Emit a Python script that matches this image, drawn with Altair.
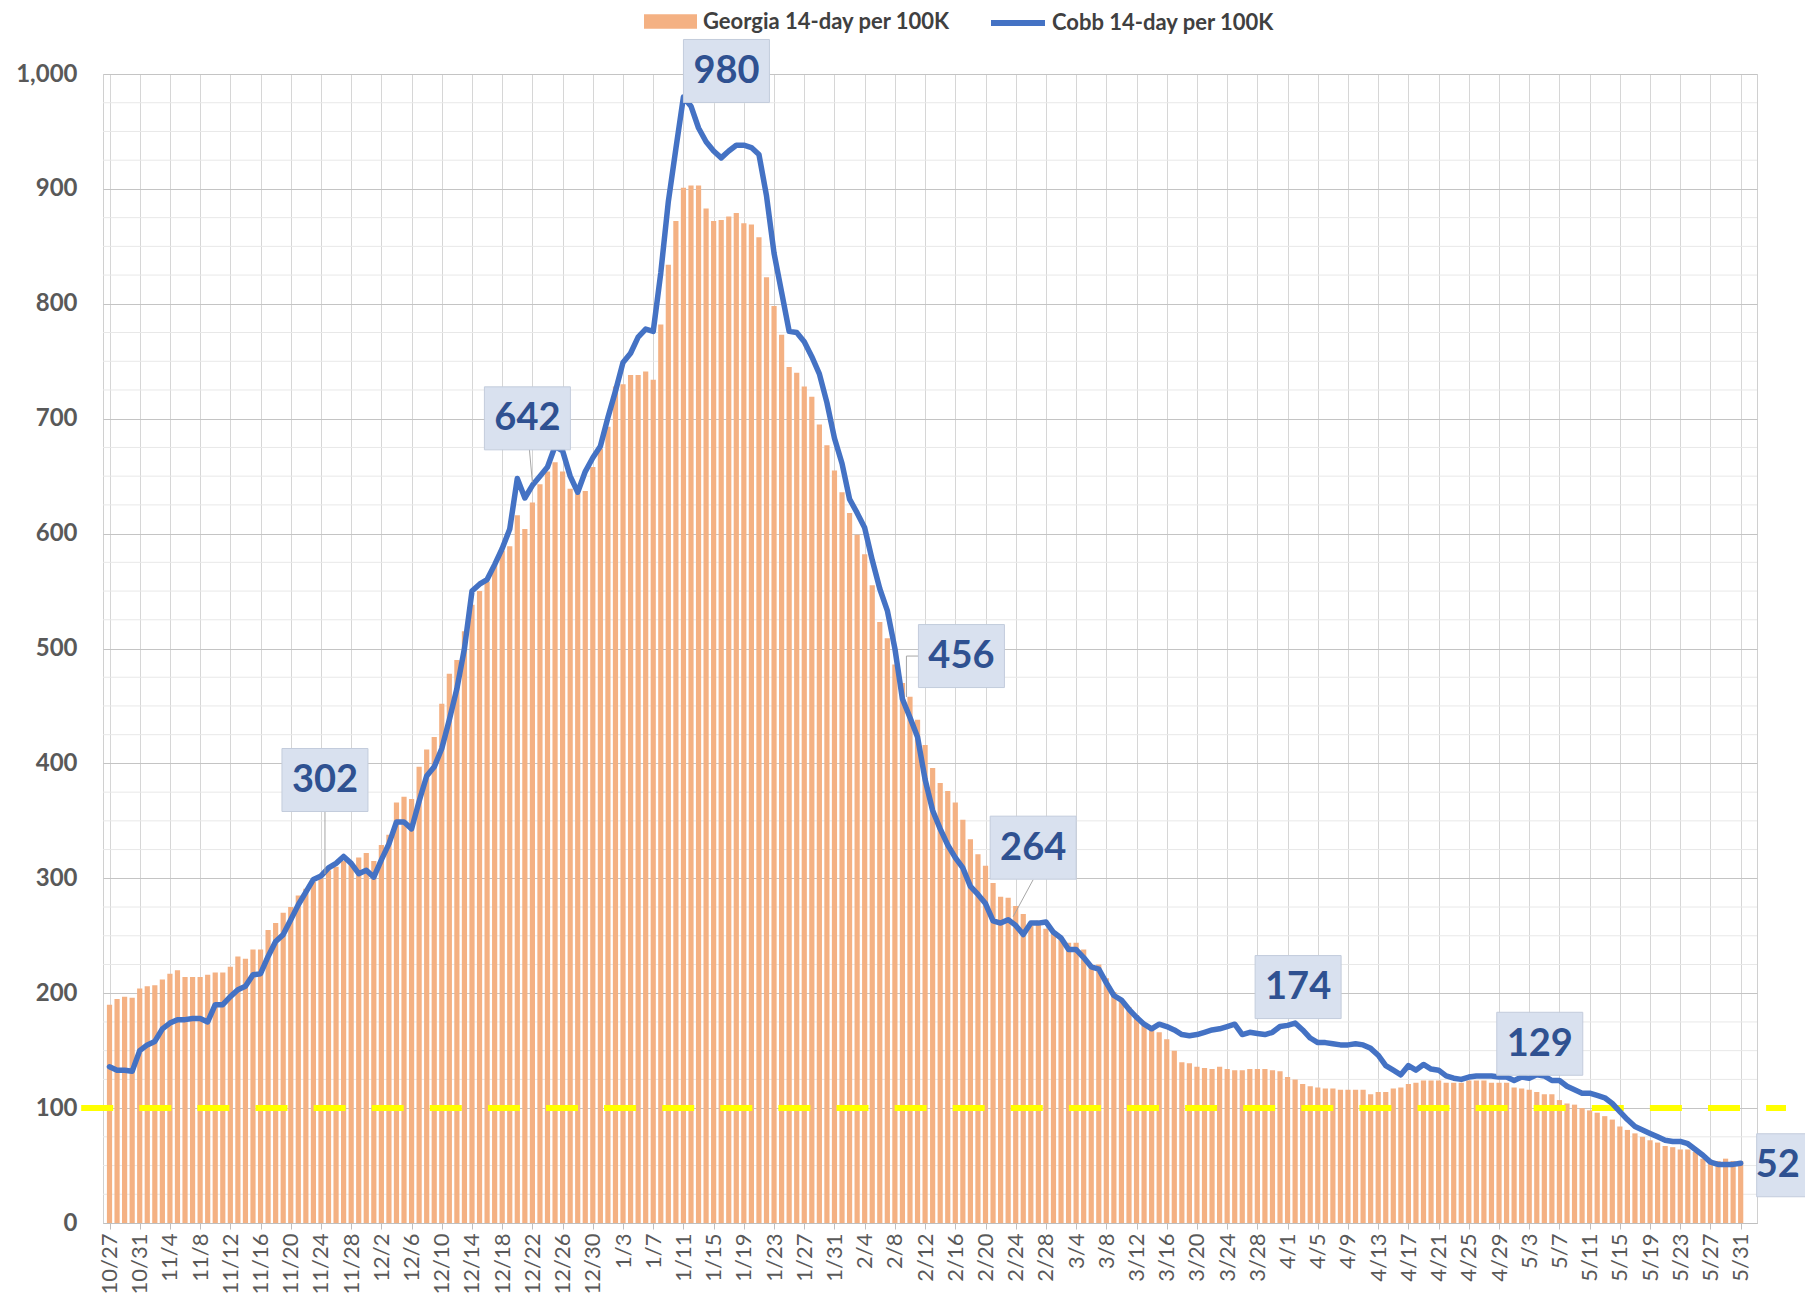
import altair as alt
import pandas as pd

# ---------------- data ----------------
georgia = [
    190, 195, 197, 196, 204, 206, 207, 212, 217, 220,
    214, 214, 214, 216, 218, 218, 223, 232, 230, 238,
    238, 255, 261, 270, 275, 285, 291, 297, 300, 307,
    310, 315, 312, 318, 322, 315, 329, 338, 366, 371,
    369, 397, 412, 423, 452, 478, 490, 515, 538, 550,
    558, 573, 585, 589, 616, 604, 627, 643, 654, 662,
    654, 639, 635, 637, 658, 674, 693, 728, 730, 738,
    738, 741, 734, 782, 834, 872, 901, 903, 903, 883,
    872, 873, 876, 879, 870, 869, 858, 823, 798, 773,
    745, 740, 728, 719, 695, 677, 655, 636, 618, 599,
    582, 555, 523, 509, 486, 470, 458, 438, 416, 396,
    383, 376, 366, 351, 334, 321, 311, 296, 284, 283,
    276, 269, 259, 263, 256, 253, 249, 244, 244, 238,
    225, 225, 213, 201, 194, 188, 181, 173, 168, 166,
    160, 150, 140, 139, 136, 135, 134, 136, 134, 133,
    133, 134, 134, 134, 133, 132, 127, 125, 121, 119,
    118, 117, 117, 116, 116, 116, 116, 112, 114, 114,
    117, 118, 121, 122, 124, 124, 124, 122, 122, 122,
    124, 124, 124, 122, 122, 122, 118, 117, 116, 114,
    112, 112, 107, 104, 103, 100, 98, 96, 93, 90,
    84, 81, 78, 75, 72, 70, 67, 66, 64, 64,
    62, 56, 55, 54, 56, 54, 54,
]

cobb = [
    136, 133, 133, 132, 150, 155, 158, 169, 174, 177,
    177, 178, 178, 175, 190, 190, 197, 203, 206, 216,
    217, 232, 245, 251, 264, 277, 288, 299, 302, 309,
    313, 319, 313, 304, 307, 301, 316, 330, 349, 349,
    343, 367, 389, 397, 413, 438, 465, 500, 550, 556,
    560, 573, 587, 604, 648, 631, 642, 650, 658, 676,
    672, 650, 636, 654, 666, 676, 701, 724, 749, 757,
    771, 778, 776, 827, 889, 935, 980, 972, 953, 941,
    933, 927, 933, 938, 938, 936, 930, 894, 844, 810,
    776, 775, 767, 754, 739, 714, 683, 661, 630, 618,
    605, 577, 552, 533, 500, 456, 440, 423, 386, 359,
    343, 329, 318, 309, 293, 286, 278, 263, 261, 264,
    259, 251, 261, 261, 262, 253, 248, 238, 238, 231,
    223, 221, 209, 198, 194, 186, 179, 173, 169, 173,
    171, 168, 164, 163, 164, 166, 168, 169, 171, 173,
    164, 166, 165, 164, 166, 171, 172, 174, 168, 161,
    157, 157, 156, 155, 155, 156, 155, 152, 146, 137,
    133, 129, 137, 133, 138, 134, 133, 128, 126, 125,
    127, 128, 128, 128, 127, 127, 124, 127, 126, 129,
    128, 124, 124, 119, 116, 113, 113, 111, 109, 104,
    97, 90, 84, 81, 78, 75, 72, 71, 71, 69,
    64, 59, 53, 51, 51, 51, 52,
]

dates = pd.date_range("2020-10-27", "2021-05-31", freq="D")
date_labels = [f"{d.month}/{d.day}" for d in dates]
tick_days = list(range(0, len(dates), 4))

label_days = [28, 56, 76, 105, 119, 157, 189, 216]
threshold = 100

GA = "Georgia 14-day per 100K"
CB = "Cobb 14-day per 100K"

ORANGE = "#F4B183"
BLUE = "#4472C4"
LABEL_BLUE = "#2F5191"
BOX_FILL = "#D9E1EF"
BOX_STROKE = "#C3CCDC"
FONT = "Lato"

df = pd.DataFrame({
    "day": list(range(len(dates))),
    "georgia": georgia,
    "cobb": cobb,
    "ga": GA,
    "cb": CB,
})

# ---------------- scales / axes (shared by every layer) ----------------
label_expr = "[" + ",".join(f"'{s}'" for s in date_labels) + "][datum.value]"
x_scale = alt.Scale(domain=[-0.2, 217.5], nice=False, zero=False)
y_scale = alt.Scale(domain=[0, 1000], nice=False)

x_axis = alt.Axis(
    values=tick_days, labelExpr=label_expr, labelAngle=-90,
    labelFont=FONT, labelFontSize=22, labelColor="#595959",
    labelOverlap=False, labelFlush=False, labelPadding=4,
    grid=True, gridColor="#D6D6D6", gridWidth=1,
    tickColor="#BFBFBF", tickSize=6, domainColor="#BFBFBF", title=None,
)
y_axis = alt.Axis(
    values=list(range(0, 1001, 100)), format=",d",
    labelFont=FONT, labelFontSize=24, labelFontWeight="bold", labelColor="#595959",
    labelPadding=26, grid=True, gridColor="#C4C4C4", gridWidth=1.2,
    ticks=False, domain=False, title=None,
)

base = alt.Chart(df)

minor = (
    alt.Chart(alt.sequence(25, 1000, 25, as_="v"))
    .transform_filter("datum.v % 100 != 0")
    .mark_rule(color="#E8E8E8", strokeWidth=1)
    .encode(y=alt.Y("v:Q", scale=y_scale, axis=y_axis))
)

bars = base.mark_bar(width=5.2).encode(
    x=alt.X("day:Q", scale=x_scale, axis=x_axis),
    y=alt.Y("georgia:Q", scale=y_scale, axis=y_axis),
    y2=alt.datum(0),
    fill=alt.Fill(
        "ga:N",
        scale=alt.Scale(domain=[GA], range=[ORANGE]),
        legend=alt.Legend(
            orient="none", legendX=541, legendY=-79, title=None, padding=0,
            symbolType="M-1,-0.27L1,-0.27L1,0.27L-1,0.27Z", symbolSize=2809,
            symbolStrokeWidth=0, labelOffset=6, labelFont=FONT, labelFontSize=22,
            labelFontWeight="bold", labelColor="#404040", labelLimit=500,
        ),
    ),
)

thr = alt.Chart(pd.DataFrame({"v": [threshold]})).mark_rule(
    color="#FFFF00", strokeWidth=6, strokeDash=[32, 26.1]
).encode(
    x=alt.XDatum(-3.75, axis=x_axis),
    x2=alt.X2Datum(222.0),
    y=alt.Y("v:Q", axis=y_axis),
)

line = base.mark_line(strokeWidth=5.5, strokeJoin="round", strokeCap="round").encode(
    x=alt.X("day:Q", axis=x_axis),
    y=alt.Y("cobb:Q", axis=y_axis),
    stroke=alt.Stroke(
        "cb:N",
        scale=alt.Scale(domain=[CB], range=[BLUE]),
        legend=alt.Legend(
            orient="none", legendX=885, legendY=-81, title=None, padding=0,
            symbolType="stroke", symbolSize=2916, symbolStrokeWidth=6,
            labelOffset=4, labelFont=FONT, labelFontSize=22,
            labelFontWeight="bold", labelColor="#404040", labelLimit=500,
        ),
    ),
)

# ---------------- callout labels ----------------
BW, BH = 86, 63
label_style = {
    28: dict(dx=4, dy=-96, tdx=4, leaders=[(4, -2, 4, -64)]),
    56: dict(dx=-5, dy=-67, tdx=-5, leaders=[(0, -3, -3, -36)]),
    76: dict(dx=43, dy=-26, tdx=43, leaders=[]),
    105: dict(dx=59, dy=-43, tdx=59, leaders=[(4, -2, 4, -43), (4, -43, 16, -43)]),
    119: dict(dx=25, dy=-72, tdx=25, leaders=[(5, -3, 25, -40)]),
    157: dict(dx=3, dy=-36, tdx=3, leaders=[]),
    189: dict(dx=3, dy=-31, tdx=3, leaders=[]),
    216: dict(dx=59, dy=2, tdx=37, leaders=[]),
}

label_layers = []
for d in label_days:
    st = label_style[d]
    ldf = pd.DataFrame({"day": [d], "val": [cobb[d]], "txt": [str(cobb[d])]})
    lc = alt.Chart(ldf)
    enc_pt = dict(
        x=alt.X("day:Q", axis=x_axis), x2="day",
        y=alt.Y("val:Q", axis=y_axis), y2="val",
    )
    for (a, b, c, e) in st["leaders"]:
        label_layers.append(
            lc.mark_rule(color="#A6A6A6", strokeWidth=1,
                         xOffset=a, yOffset=b, x2Offset=c, y2Offset=e).encode(**enc_pt)
        )
    label_layers.append(
        lc.mark_rect(fill=BOX_FILL, stroke=BOX_STROKE, strokeWidth=1,
                     xOffset=st["dx"] - BW / 2, x2Offset=st["dx"] + BW / 2,
                     yOffset=st["dy"] - BH / 2, y2Offset=st["dy"] + BH / 2).encode(**enc_pt)
    )
    label_layers.append(
        lc.mark_text(dx=st["tdx"], dy=st["dy"] + 1, font=FONT, fontSize=38,
                     fontWeight="bold", color=LABEL_BLUE, align="center",
                     baseline="middle").encode(
            x=alt.X("day:Q", axis=x_axis), y=alt.Y("val:Q", axis=y_axis), text="txt:N"
        )
    )

chart = (
    alt.layer(minor, bars, thr, line, *label_layers)
    .resolve_legend(fill="independent", stroke="independent")
    .properties(
        width=1654, height=1149,
        padding={"left": 95, "top": 66, "right": 48, "bottom": 80},
        autosize=alt.AutoSizeParams(type="none"),
        background="white",
    )
    .configure_view(stroke="#D0D0D0")
)

chart.save("out.html", embed_options={"renderer": "svg", "actions": False})
